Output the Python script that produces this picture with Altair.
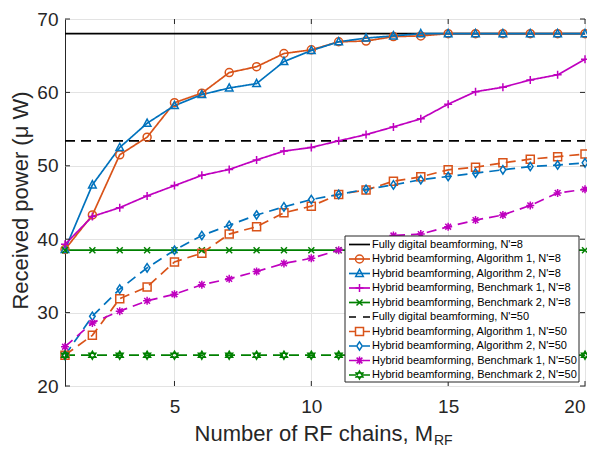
import altair as alt
import pandas as pd

# ---------------- data ----------------
M = list(range(1, 21))

fd_8 = [68.0, 68.0, 68.0, 68.0, 68.0, 68.0, 68.0, 68.0, 68.0, 68.0,
        68.0, 68.0, 68.0, 68.0, 68.0, 68.0, 68.0, 68.0, 68.0, 68.0]
alg1_8 = [38.6, 43.3, 51.5, 53.9, 58.6, 59.9, 62.7, 63.5, 65.3, 65.8,
          66.9, 67.0, 67.6, 67.7, 68.0, 68.0, 68.0, 68.0, 68.0, 68.0]
alg2_8 = [38.6, 47.4, 52.5, 55.8, 58.2, 59.7, 60.6, 61.2, 64.2, 65.7,
          66.9, 67.4, 67.7, 68.0, 68.0, 68.0, 68.0, 68.0, 68.0, 68.0]
ben1_8 = [39.3, 43.1, 44.3, 45.9, 47.3, 48.7, 49.5, 50.8, 52.0, 52.5,
          53.4, 54.25, 55.3, 56.4, 58.4, 60.1, 60.7, 61.7, 62.4, 64.5]
ben2_8 = [38.5, 38.5, 38.5, 38.5, 38.5, 38.5, 38.5, 38.5, 38.5, 38.5,
          38.5, 38.5, 38.5, 38.5, 38.5, 38.5, 38.5, 38.5, 38.5, 38.5]
fd_50 = [53.4, 53.4, 53.4, 53.4, 53.4, 53.4, 53.4, 53.4, 53.4, 53.4,
         53.4, 53.4, 53.4, 53.4, 53.4, 53.4, 53.4, 53.4, 53.4, 53.4]
alg1_50 = [24.2, 26.9, 31.9, 33.5, 36.9, 38.1, 40.7, 41.7, 43.6, 44.5,
           46.1, 46.7, 47.9, 48.5, 49.45, 49.8, 50.4, 50.9, 51.25, 51.6]
alg2_50 = [24.2, 29.5, 33.2, 36.1, 38.5, 40.5, 41.9, 43.3, 44.4, 45.4,
           46.1, 46.8, 47.4, 48.1, 48.55, 49.0, 49.45, 49.9, 50.1, 50.4]
ben1_50 = [25.35, 28.6, 30.2, 31.6, 32.5, 33.8, 34.6, 35.6, 36.7, 37.4,
           38.5, 39.4, 40.5, 40.7, 41.7, 42.6, 43.3, 44.6, 46.3, 46.8]
ben2_50 = [24.2, 24.2, 24.2, 24.2, 24.2, 24.2, 24.2, 24.2, 24.2, 24.2,
           24.2, 24.2, 24.2, 24.2, 24.2, 24.2, 24.2, 24.2, 24.2, 24.2]

labels = [
    "Fully digital beamforming, N'=8",
    "Hybrid beamforming, Algorithm 1, N'=8",
    "Hybrid beamforming, Algorithm 2, N'=8",
    "Hybrid beamforming, Benchmark 1, N'=8",
    "Hybrid beamforming, Benchmark 2, N'=8",
    "Fully digital beamforming, N'=50",
    "Hybrid beamforming, Algorithm 1, N'=50",
    "Hybrid beamforming, Algorithm 2, N'=50",
    "Hybrid beamforming, Benchmark 1, N'=50",
    "Hybrid beamforming, Benchmark 2, N'=50",
]
series_values = [fd_8, alg1_8, alg2_8, ben1_8, ben2_8,
                 fd_50, alg1_50, alg2_50, ben1_50, ben2_50]

x_ticks = [5, 10, 15, 20]
y_ticks = [20, 30, 40, 50, 60, 70]

# ---------------- styles ----------------
ORANGE, BLUE, MAG, GREEN = "#D95319", "#0072BD", "#BF00BF", "#008000"
colors = ["#000000", ORANGE, BLUE, MAG, GREEN,
          "#000000", ORANGE, BLUE, MAG, GREEN]
dashed = [False] * 5 + [True] * 5
dashes = [[1, 0] if not d else [10, 6] for d in dashed]

PLUS = "M-1,0H1M0,-1V1"
XMARK = "M-0.75,-0.75L0.75,0.75M-0.75,0.75L0.75,-0.75"
ASTER = "M-1,0H1M0,-1V1M-0.72,-0.72L0.72,0.72M-0.72,0.72L0.72,-0.72"
DIAM = "M0,-1.05L0.7,0L0,1.05L-0.7,0Z"
HEXA = "M0,-1L0.866,0.5L-0.866,0.5ZM0,1L0.866,-0.5L-0.866,-0.5Z"
TRI = "M0,-1.05L0.95,0.75L-0.95,0.75Z"
marker_labels = [labels[i] for i in (1, 2, 3, 4, 6, 7, 8, 9)]
marker_shapes = ["circle", TRI, PLUS, XMARK, "square", DIAM, ASTER, HEXA]

FONT = "Liberation Sans"
TXT = "#262626"
W, H = 520, 367

rows = []
for lab, vals in zip(labels, series_values):
    for m, v in zip(M, vals):
        rows.append({"series": lab, "M": m, "power": v})
df = pd.DataFrame(rows)

xs = alt.Scale(domain=[1, 20], nice=False, zero=False)
ys = alt.Scale(domain=[20, 70], nice=False, zero=False)
xaxis = alt.Axis(values=x_ticks, title=None, grid=True, ticks=False, domain=False,
                 labelFontSize=19, labelFont=FONT, labelColor=TXT, labelPadding=11,
                 gridColor="#e3e3e3", gridWidth=1)
yaxis = alt.Axis(values=y_ticks, title=None, grid=True, ticks=False, domain=False,
                 labelFontSize=19, labelFont=FONT, labelColor=TXT, labelPadding=7,
                 gridColor="#e3e3e3", gridWidth=1)

color_enc = alt.Color("series:N", scale=alt.Scale(domain=labels, range=colors), legend=None)
dash_enc = alt.StrokeDash("series:N", scale=alt.Scale(domain=labels, range=dashes), legend=None)
shape_enc = alt.Shape("series:N", scale=alt.Scale(domain=marker_labels, range=marker_shapes), legend=None)

X = alt.X("M:Q", scale=xs, axis=xaxis)
Y = alt.Y("power:Q", scale=ys, axis=yaxis)

lines = alt.Chart(df).mark_line(strokeWidth=1.7).encode(
    x=X, y=Y, color=color_enc, strokeDash=dash_enc)

points = alt.Chart(df).transform_filter(
    alt.FieldOneOfPredicate(field="series", oneOf=marker_labels)
).mark_point(filled=False, size=64, strokeWidth=1.5, opacity=1).encode(
    x=X, y=Y, color=color_enc, shape=shape_enc)

# inward ticks on all four sides
xt = pd.DataFrame({"M": x_ticks})
yt = pd.DataFrame({"power": y_ticks})
tick_b = alt.Chart(xt).mark_rule(color=TXT, strokeWidth=1).encode(
    x=X, y=alt.value(H), y2=alt.value(H - 5))
tick_t = alt.Chart(xt).mark_rule(color=TXT, strokeWidth=1).encode(
    x=X, y=alt.value(0), y2=alt.value(5))
tick_l = alt.Chart(yt).mark_rule(color=TXT, strokeWidth=1).encode(
    y=Y, x=alt.value(0), x2=alt.value(5))
tick_r = alt.Chart(yt).mark_rule(color=TXT, strokeWidth=1).encode(
    y=Y, x=alt.value(W), x2=alt.value(W - 5))

one = pd.DataFrame({"k": [0]})
ytitle = alt.Chart(one).mark_text(angle=270, fontSize=22, font=FONT, color=TXT,
                                  align="center", baseline="middle").encode(
    x=alt.value(-44), y=alt.value(H / 2 - 2), text=alt.value("Received power (\u03bc W)"))
xtitle = alt.Chart(one).mark_text(fontSize=22, font=FONT, color=TXT,
                                  align="right", baseline="alphabetic").encode(
    x=alt.value(368), y=alt.value(422), text=alt.value("Number of RF chains, M"))
xsub = alt.Chart(one).mark_text(fontSize=14, font=FONT, color=TXT,
                                align="left", baseline="alphabetic").encode(
    x=alt.value(369), y=alt.value(426), text=alt.value("RF"))

main = alt.layer(lines, points, tick_b, tick_t, tick_l, tick_r, ytitle, xtitle, xsub)

# ---------------- manual legend ----------------
leg = pd.DataFrame({"row": list(range(10)), "series": labels, "dashed": dashed})
ly = alt.Y("row:Q", scale=alt.Scale(domain=[0, 9], range=[225.5, 356], zero=False, nice=False),
           axis=None)
box = alt.Chart(one).mark_rect(fill="white", stroke=TXT, strokeWidth=1).encode(
    x=alt.value(280), x2=alt.value(514), y=alt.value(217), y2=alt.value(363))
leg_solid = alt.Chart(leg).transform_filter("!datum.dashed").mark_rule(strokeWidth=1.7).encode(
    x=alt.value(284), x2=alt.value(305), y=ly, color=color_enc)
leg_dash = alt.Chart(leg).transform_filter("datum.dashed").mark_rule(
    strokeWidth=1.7, strokeDash=[7, 7]).encode(
    x=alt.value(284), x2=alt.value(305), y=ly, color=color_enc)
leg_pts = alt.Chart(leg).transform_filter(
    alt.FieldOneOfPredicate(field="series", oneOf=marker_labels)
).mark_point(filled=False, size=64, strokeWidth=1.5, opacity=1).encode(
    x=alt.value(294.5), y=ly, color=color_enc, shape=shape_enc)
leg_txt = alt.Chart(leg).mark_text(fontSize=11, font=FONT, color="#000000",
                                   align="left", baseline="middle").encode(
    x=alt.value(307), y=ly, text="series:N")

legend = alt.layer(box, leg_solid, leg_dash, leg_pts, leg_txt)

chart = alt.layer(main, legend).resolve_scale(y="independent").properties(
    width=W, height=H,
    autosize=alt.AutoSizeParams(type="none"),
    padding={"left": 57, "top": 11, "right": 2, "bottom": 63},
).configure_view(stroke=TXT, strokeWidth=1)

chart.save("out.html", embed_options={"renderer": "svg", "actions": False})
